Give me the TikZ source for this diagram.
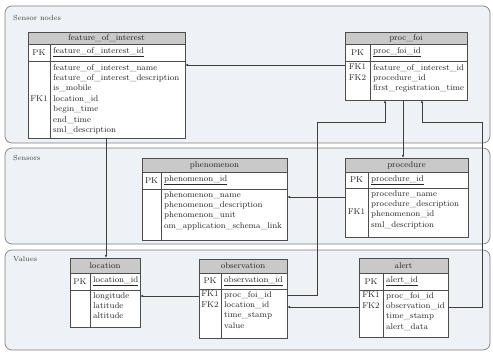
\documentclass[tikz,border=0pt]{standalone}
\usetikzlibrary{arrows.meta,fit}
\definecolor{grpfill}{HTML}{EEF1F5}
\definecolor{grpline}{HTML}{7F7F7F}
\definecolor{hdrfill}{HTML}{C9C9C9}
\definecolor{tabline}{HTML}{4D4D4D}
\definecolor{conline}{HTML}{3F3F3F}
\tikzset{
 grp/.style={draw=grpline, fill=grpfill, rounded corners=7pt, line width=0.7pt},
 grplabel/.style={anchor=west, font=\fontsize{7.4}{8}\selectfont, text=black!75, inner sep=0},
 tab/.style={draw=tabline, line width=0.65pt},
 txt/.style={font=\fontsize{8.4}{10.4}\selectfont, inner sep=0, text=black!85},
 body/.style={txt, align=left, anchor=north west},
 conn/.style={draw=conline, line width=0.65pt, -{Latex[length=3pt,width=2.4pt]}},
}
\newcommand{\ertab}[9]{%
 \fill[white] (#2,#4) rectangle (#3,#7);
 \fill[hdrfill] (#2,#4) rectangle (#3,#5);
 \draw[tab] (#2,#4) rectangle (#3,#7) (#2,#5) -- (#3,#5) (#2,#6) -- (#3,#6) (#8,#5) -- (#8,#7);
 \node[fit={(#2,#4) (#3,#7)}, inner sep=0, outer sep=0] (#1) {};
 \node[txt] (#1-title) at ({(#2+#3)/2},{(#4+#5)/2}) {#9};
 \node[txt] (#1-pk) at ({(#2+#8)/2},{(#5+#6)/2}) {PK};
}
\begin{document}
\begin{tikzpicture}[x=1pt,y=-1pt]
\useasboundingbox (0,0) rectangle (493,353);
% groups
\draw[grp] (5,6) rectangle (490,143);
\node[grplabel] (g1) at (13,18) {Sensor nodes};
\draw[grp] (5,148) rectangle (490,244);
\node[grplabel] (g2) at (13,158) {Sensors};
\draw[grp] (5,250) rectangle (490,350);
\node[grplabel] (g3) at (13,259) {Values};

% feature_of_interest
\ertab{foi}{28}{185}{32}{44}{61}{138}{50}{feature\_of\_interest}
\node[txt, anchor=west] (foi-pkf) at (53,52.5) {\underline{feature\_of\_interest\_id}};
\node[body] (foi-body) at (53,64) {feature\_of\_interest\_name\\feature\_of\_interest\_description\\is\_mobile\\location\_id\\begin\_time\\end\_time\\sml\_description};
\node[txt] (foi-fk) at (39,99) {FK1};

% proc_foi
\ertab{pf}{345}{467}{32}{44}{61}{100}{370}{proc\_foi}
\node[txt, anchor=west] (pf-pkf) at (373,52.5) {\underline{proc\_foi\_id}};
\node[body] (pf-body) at (373,64) {feature\_of\_interest\_id\\procedure\_id\\first\_registration\_time};
\node[body, anchor=north] (pf-fk) at (357.5,64) {FK1\\FK2};

% phenomenon
\ertab{phen}{142}{287}{158}{172}{189}{240}{161}{phenomenon}
\node[txt, anchor=west] (phen-pkf) at (164,180.5) {\underline{phenomenon\_id}};
\node[body] (phen-body) at (164,191) {phenomenon\_name\\phenomenon\_description\\phenomenon\_unit\\om\_application\_schema\_link};

% procedure
\ertab{proc}{345}{468}{158}{172}{188}{237}{368}{procedure}
\node[txt, anchor=west] (proc-pkf) at (371,180) {\underline{procedure\_id}};
\node[body] (proc-body) at (371,190) {procedure\_name\\procedure\_description\\phenomenon\_id\\sml\_description};
\node[txt] (proc-fk) at (356.5,212) {FK1};

% location
\ertab{loc}{70}{140}{258}{273}{290}{327}{90}{location}
\node[txt, anchor=west] (loc-pkf) at (93,281.5) {\underline{location\_id}};
\node[body] (loc-body) at (93,292) {longitude\\latitude\\altitude};

% observation
\ertab{obs}{199}{287}{259}{273}{289}{338}{221}{observation}
\node[txt, anchor=west] (obs-pkf) at (224,281) {\underline{observation\_id}};
\node[body] (obs-body) at (224,291) {proc\_foi\_id\\location\_id\\time\_stamp\\value};
\node[body, anchor=north] (obs-fk) at (210,291) {FK1\\FK2};

% alert
\ertab{al}{359}{448}{258}{273}{290}{337}{383}{alert}
\node[txt, anchor=west] (al-pkf) at (386,281.5) {\underline{alert\_id}};
\node[body] (al-body) at (386,292) {proc\_foi\_id\\observation\_id\\time\_stamp\\alert\_data};
\node[body, anchor=north] (al-fk) at (371,292) {FK1\\FK2};

% connectors
\draw[conn] (pf.west |- 0,65) -- (foi.east |- 0,65);
\draw[conn] (foi.south -| 106,0) -- (loc.north -| 106,0);
\draw[conn] (pf.south -| 403,0) -- (proc.north -| 403,0);
\draw[conn] (proc.west |- 0,197) -- (phen.east |- 0,197);
\draw[conn] (obs.east |- 0,295) -- (317,295) -- (317,122) -- (385,122) -- (pf.south -| 385,0);
\draw[conn] (obs.west |- 0,296) -- (loc.east |- 0,296);
\draw[conn] (al.west |- 0,307) -- (obs.east |- 0,307);
\draw[conn] (al.east |- 0,307) -- (482,307) -- (482,122) -- (422,122) -- (pf.south -| 422,0);
\end{tikzpicture}
\end{document}
